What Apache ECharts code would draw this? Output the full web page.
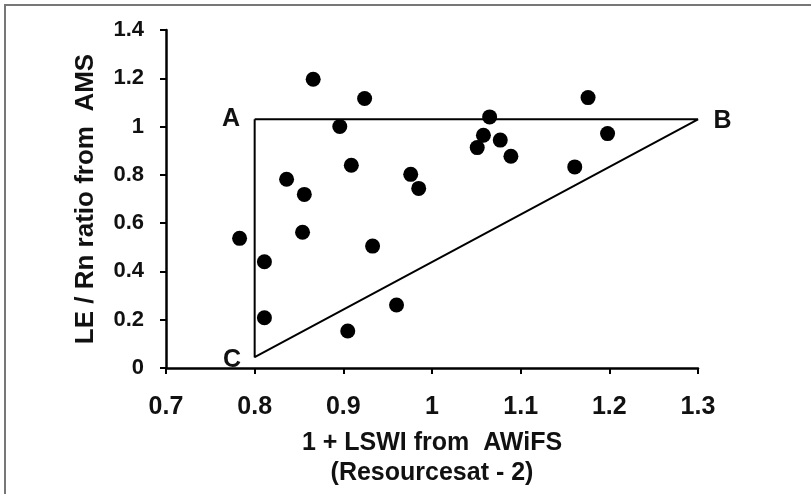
<!DOCTYPE html>
<html>
<head>
<meta charset="utf-8">
<script src="https://cdn.jsdelivr.net/npm/echarts@6/dist/echarts.min.js"></script>
<style>
html,body{margin:0;padding:0;background:#fff;}
#chart{width:811px;height:494px;}
</style>
</head>
<body>
<div id="chart"></div>
<script>
// Observations: 1 + LSWI (x) vs LE/Rn ratio (y)
var lswi = [0.866, 0.924, 0.896, 0.909, 0.836, 0.856, 0.976, 0.985,
            0.783, 0.811, 0.854, 0.933, 0.811, 0.960, 0.905,
            1.065, 1.176, 1.058, 1.077, 1.051, 1.089, 1.198, 1.161];
var leRn = [1.196, 1.116, 1.000, 0.840, 0.782, 0.719, 0.802, 0.744,
            0.537, 0.440, 0.562, 0.505, 0.208, 0.261, 0.153,
            1.040, 1.120, 0.964, 0.944, 0.913, 0.877, 0.971, 0.833];
// Triangle vertices A, B, C
var vertexNames = ['A', 'B', 'C'];
var vertexX = [0.8, 1.3, 0.8];
var vertexY = [1.03, 1.03, 0.045];
// Axis settings
var xMin = 0.7, xMax = 1.3, xStep = 0.1;
var yMin = 0, yMax = 1.4, yStep = 0.2;
var xTitle = '1 + LSWI from  AWiFS\n(Resourcesat - 2)';
var yTitle = 'LE / Rn ratio from  AMS';

var FONT = '"Liberation Sans", Arial, sans-serif';
var points = lswi.map(function (x, i) { return [x, leRn[i]]; });
var labelPos = {A: ['left', 14, [0, 0]], B: ['right', 15, [0, 2]], C: ['left', 13, [0, 3]]};
var tri = vertexNames.map(function (n, i) {
  var p = labelPos[n];
  return {
    value: [vertexX[i], vertexY[i]],
    label: {show: true, formatter: n, position: p[0], distance: p[1], offset: p[2],
            color: '#111', fontSize: 25, fontWeight: 'bold', fontFamily: FONT}
  };
});
tri.push({value: [vertexX[0], vertexY[0]]});

var chart = echarts.init(document.getElementById('chart'), null, {renderer: 'canvas'});
chart.setOption({
  animation: false,
  backgroundColor: '#fff',
  grid: {left: 166, right: 113, top: 30, bottom: 126},
  xAxis: {
    type: 'value', min: xMin, max: xMax, interval: xStep,
    name: xTitle, nameLocation: 'middle', nameGap: 60,
    nameTextStyle: {color: '#111', fontSize: 25, fontWeight: 'bold', fontFamily: FONT, lineHeight: 30},
    axisLine: {show: true, onZero: false, lineStyle: {color: '#000', width: 2.5}},
    axisTick: {show: true, inside: false, length: 6, lineStyle: {color: '#000', width: 2}},
    axisLabel: {color: '#111', fontSize: 25, fontWeight: 'bold', fontFamily: FONT, margin: 27},
    splitLine: {show: false}
  },
  yAxis: {
    type: 'value', min: yMin, max: yMax, interval: yStep,
    name: yTitle, nameLocation: 'middle', nameGap: 67, nameRotate: 90,
    nameTextStyle: {color: '#111', fontSize: 26, fontWeight: 'bold', fontFamily: FONT},
    axisLine: {show: true, onZero: false, lineStyle: {color: '#000', width: 2.5}},
    axisTick: {show: true, inside: false, length: 6, lineStyle: {color: '#000', width: 2}},
    axisLabel: {color: '#111', fontSize: 22, fontWeight: 'bold', fontFamily: FONT, margin: 22},
    splitLine: {show: false}
  },
  graphic: [{
    type: 'polyline', silent: true,
    shape: {points: [[5, 494], [5, 5], [811, 5]]},
    style: {stroke: '#777', lineWidth: 2, fill: null}
  }],
  series: [{
    type: 'line', data: tri, showSymbol: true, symbol: 'circle', symbolSize: 1,
    itemStyle: {color: 'rgba(0,0,0,0)'},
    lineStyle: {color: '#000', width: 2}, z: 2, silent: true
  }, {
    type: 'scatter', data: points, symbol: 'circle', symbolSize: 15,
    itemStyle: {color: '#000', opacity: 1}, z: 3
  }]
});
</script>
</body>
</html>
